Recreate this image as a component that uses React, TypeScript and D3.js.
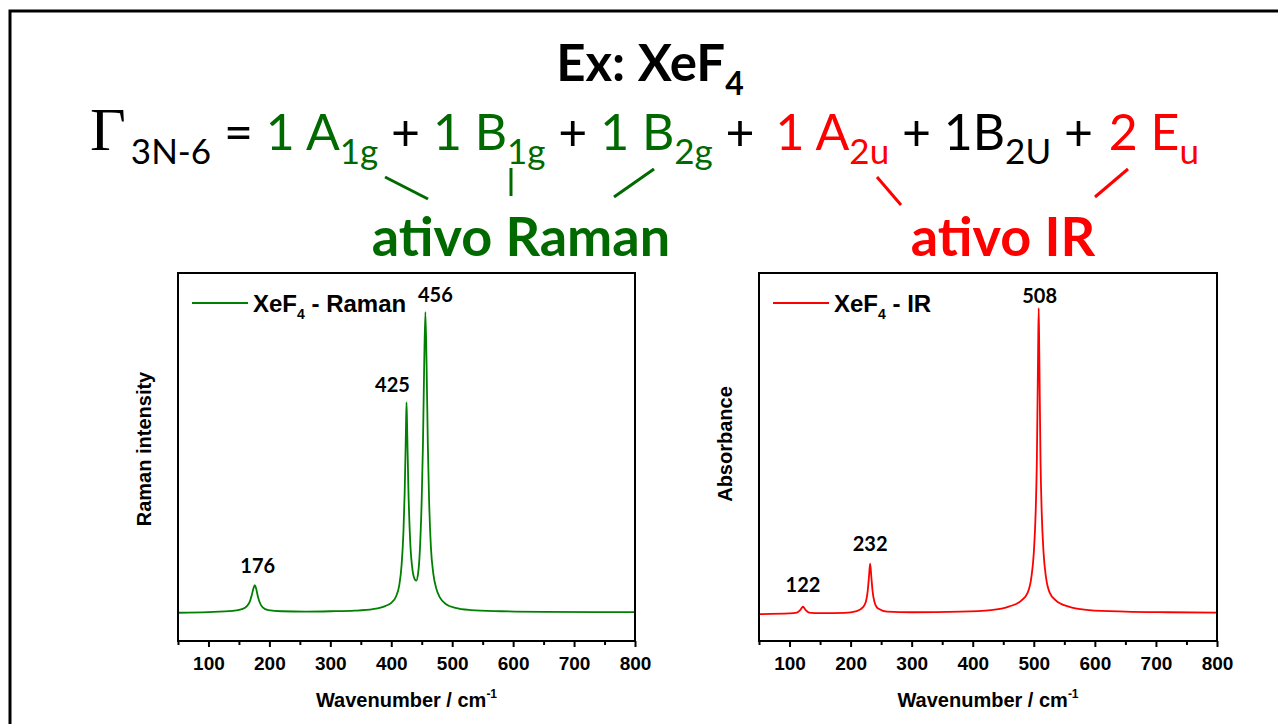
import { useEffect, useRef } from 'react';
import * as d3 from 'd3';

// Raman spectrum (normalised to the 456 band)
const ramanWavenumbers = [
  50, 100, 140, 155, 163, 168, 171, 174, 176, 178, 181, 184, 189, 198, 220, 260, 300, 340, 370, 390,
  400, 408, 413, 417, 420, 422, 424, 425, 426, 428, 431, 435, 439, 441, 444, 447, 450, 452, 454, 456,
  458, 460, 462, 465, 469, 474, 480, 490, 505, 530, 580, 650, 800,
];
const ramanIntensity = [
  0.0, 0.002, 0.006, 0.012, 0.022, 0.038, 0.058, 0.082, 0.092, 0.082, 0.055, 0.035, 0.018, 0.009, 0.005, 0.004, 0.005, 0.007, 0.012, 0.022,
  0.033, 0.055, 0.09, 0.16, 0.27, 0.4, 0.6, 0.7, 0.62, 0.42, 0.24, 0.14, 0.11, 0.107, 0.13, 0.21, 0.38, 0.56, 0.82, 1.0,
  0.82, 0.56, 0.38, 0.22, 0.13, 0.08, 0.05, 0.028, 0.016, 0.009, 0.005, 0.003, 0.002,
];

// IR spectrum (normalised to the 508 band)
const irWavenumbers = [
  50, 100, 112, 117, 120, 122, 124, 127, 132, 150, 190, 210, 220, 225, 228, 230, 232, 234, 236, 239,
  245, 260, 300, 380, 430, 460, 480, 490, 496, 500, 503, 505, 507, 508, 509, 511, 513, 516, 520, 526,
  536, 556, 590, 650, 720, 800,
];
const irAbsorbance = [
  0.0, 0.002, 0.005, 0.012, 0.02, 0.024, 0.02, 0.012, 0.005, 0.003, 0.004, 0.01, 0.022, 0.04, 0.075, 0.12, 0.165, 0.12, 0.075, 0.04,
  0.018, 0.008, 0.006, 0.008, 0.013, 0.025, 0.045, 0.07, 0.12, 0.2, 0.33, 0.5, 0.85, 1.0, 0.85, 0.5, 0.33, 0.2, 0.12, 0.07,
  0.045, 0.025, 0.013, 0.008, 0.006, 0.005,
];

const ramanPeaks = [176, 425, 456];
const ramanPeakHeights = [0.092, 0.7, 1.0];
const irPeaks = [122, 232, 508];
const irPeakHeights = [0.024, 0.165, 1.0];

const xTicks = [100, 200, 300, 400, 500, 600, 700, 800];
const xMinorTicks = [50, 150, 250, 350, 450, 550, 650, 750];

const GREEN = '#006a00';
const LINE_GREEN = '#008000';
const RED = '#ff0000';
const ARIAL = '"Liberation Sans", Arial, sans-serif';
const CAL = 'Lato, "Open Sans", sans-serif';

interface SpectrumProps {
  left: number;
  right: number;
  top: number;
  bottom: number;
  xs: number[];
  ys: number[];
  yDomain: [number, number];
  color: string;
  yLabel: string;
  yLabelX: number;
  yLabelY: number;
  legend: string;
  peaks: number[];
  peakHeights: number[];
  peakDx: number[];
  peakDy: number[];
}

function Spectrum(p: SpectrumProps) {
  const axisRef = useRef<SVGGElement>(null);
  const x = d3.scaleLinear().domain([50, 800]).range([p.left, p.right]);
  const y = d3.scaleLinear().domain(p.yDomain).range([p.bottom, p.top]);

  const line = d3
    .line<number>()
    .x((d) => x(d))
    .y((_, i) => y(p.ys[i]))
    .curve(d3.curveMonotoneX);

  useEffect(() => {
    if (!axisRef.current) return;
    const g = d3.select(axisRef.current);
    g.selectAll('*').remove();

    const major = g
      .append('g')
      .call(d3.axisBottom(x).tickValues(xTicks).tickSize(6).tickPadding(10).tickFormat(d3.format('d')));
    major.select('.domain').remove();
    major.attr('font-size', 19).attr('font-family', ARIAL).attr('font-weight', 'bold');
    major.selectAll('.tick line').attr('stroke-width', 2);
    major.selectAll('.tick text').attr('fill', '#000');

    const minor = g
      .append('g')
      .call(d3.axisBottom(x).tickValues(xMinorTicks).tickSize(4).tickFormat(() => ''));
    minor.select('.domain').remove();
    minor.selectAll('.tick line').attr('stroke-width', 2);
  }, [p.left, p.right]);

  const midX = (p.left + p.right) / 2;

  return (
    <g>
      <path d={line(p.xs) ?? ''} fill="none" stroke={p.color} strokeWidth={1.8} />
      <rect
        x={p.left}
        y={p.top}
        width={p.right - p.left}
        height={p.bottom - p.top}
        fill="none"
        stroke="#000"
        strokeWidth={2}
      />
      <g ref={axisRef} transform={`translate(0,${p.bottom})`} />

      {/* legend */}
      <line x1={p.left + 14} x2={p.left + 70} y1={p.top + 30} y2={p.top + 30} stroke={p.color} strokeWidth={2} />
      <text x={p.left + 75} y={p.top + 39} fontFamily={ARIAL} fontWeight="bold" fontSize={24}>
        XeF<tspan fontSize={14} dy={7}>4</tspan>
        <tspan dy={-7}>{' - ' + p.legend}</tspan>
      </text>

      {p.peaks.map((pk, i) => (
        <text
          key={pk}
          x={x(pk) + p.peakDx[i]}
          y={y(p.peakHeights[i]) + p.peakDy[i]}
          textAnchor="middle"
          fontFamily={CAL}
          fontWeight="bold"
          fontSize={20}
        >
          {pk}
        </text>
      ))}

      <text
        x={midX}
        y={p.bottom + 66}
        textAnchor="middle"
        fontFamily={ARIAL}
        fontWeight="bold"
        fontSize={20}
      >
        Wavenumber / cm<tspan fontSize={12} dy={-9}>-1</tspan>
      </text>
      <text
        transform={`translate(${p.yLabelX},${p.yLabelY}) rotate(-90)`}
        textAnchor="middle"
        fontFamily={ARIAL}
        fontWeight="bold"
        fontSize={20}
      >
        {p.yLabel}
      </text>
    </g>
  );
}

export default function App() {
  const subDy = 14;
  const subSize = 35;
  return (
    <svg
      width={1278}
      height={724}
      style={{ position: 'absolute', left: 0, top: 0, background: '#fff' }}
    >
      <rect x={10} y={11} width={1400} height={900} fill="#fff" stroke="#000" strokeWidth={3} />

      {/* title */}
      <text x={650} y={81} textAnchor="middle" fontFamily={CAL} fontWeight="bold" fontSize={51}>
        Ex: XeF<tspan fontSize={32} dy={14}>4</tspan>
      </text>

      {/* equation */}
      <text x={90} y={150} fontFamily={CAL} fontSize={50} style={{ whiteSpace: 'pre' }}>
        <tspan fontFamily='"Liberation Serif", "Times New Roman", serif' fontSize={62}>Γ</tspan>
        <tspan fontSize={subSize} dx={5} dy={subDy}>3N-6</tspan>
        <tspan dy={-subDy}>{' = '}</tspan>
        <tspan fill={GREEN}>1 A</tspan>
        <tspan fill={GREEN} fontSize={subSize} dy={subDy}>1g</tspan>
        <tspan dy={-subDy}>{' + '}</tspan>
        <tspan fill={GREEN}>1 B</tspan>
        <tspan fill={GREEN} fontSize={subSize} dy={subDy}>1g</tspan>
        <tspan dy={-subDy}>{' + '}</tspan>
        <tspan fill={GREEN}>1 B</tspan>
        <tspan fill={GREEN} fontSize={subSize} dy={subDy}>2g</tspan>
        <tspan dy={-subDy}>{' + '}</tspan>
        <tspan fill={RED} dx={8}>1 A</tspan>
        <tspan fill={RED} fontSize={subSize} dy={subDy}>2u</tspan>
        <tspan dy={-subDy}>{' + '}</tspan>
        <tspan>1B</tspan>
        <tspan fontSize={subSize} dy={subDy}>2U</tspan>
        <tspan dy={-subDy}>{' + '}</tspan>
        <tspan fill={RED} dx={3}>2 E</tspan>
        <tspan fill={RED} fontSize={subSize} dy={subDy}>u</tspan>
      </text>

      {/* connectors */}
      <g stroke={GREEN} strokeWidth={3}>
        <line x1={385} y1={177} x2={428} y2={199} />
        <line x1={511} y1={168} x2={511} y2={196} />
        <line x1={654} y1={169} x2={614} y2={197} />
      </g>
      <g stroke={RED} strokeWidth={3}>
        <line x1={877} y1={177} x2={901} y2={205} />
        <line x1={1128} y1={169} x2={1095} y2={197} />
      </g>

      <text x={521} y={256} textAnchor="middle" fontFamily={CAL} fontWeight="bold" fontSize={54} fill={GREEN}>
        ativo Raman
      </text>
      <text x={1003} y={256} textAnchor="middle" fontFamily={CAL} fontWeight="bold" fontSize={54} fill={RED}>
        ativo IR
      </text>

      <Spectrum
        left={178}
        right={635}
        top={273}
        bottom={641}
        xs={ramanWavenumbers}
        ys={ramanIntensity}
        yDomain={[-0.094, 1.13]}
        color={LINE_GREEN}
        yLabel="Raman intensity"
        yLabelX={151}
        yLabelY={449}
        legend="Raman"
        peaks={ramanPeaks}
        peakHeights={ramanPeakHeights}
        peakDx={[3, -14, 10]}
        peakDy={[-12, -10, -10]}
      />
      <Spectrum
        left={759}
        right={1217}
        top={273}
        bottom={641}
        xs={irWavenumbers}
        ys={irAbsorbance}
        yDomain={[-0.088, 1.115]}
        color={RED}
        yLabel="Absorbance"
        yLabelX={732}
        yLabelY={444}
        legend="IR"
        peaks={irPeaks}
        peakHeights={irPeakHeights}
        peakDx={[0, 0, 1]}
        peakDy={[-15, -13, -5]}
      />
    </svg>
  );
}
